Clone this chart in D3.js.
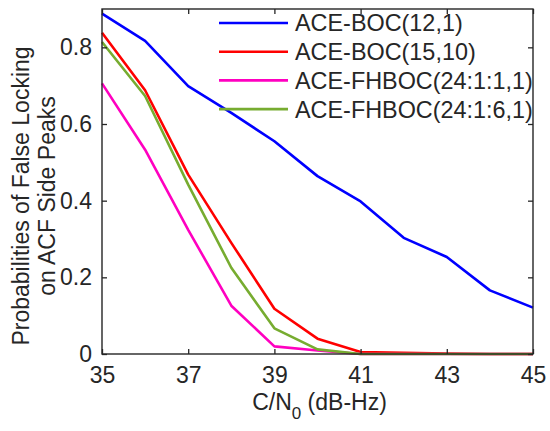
<!DOCTYPE html>
<html>
<head>
<meta charset="utf-8">
<script src="https://cdn.jsdelivr.net/npm/d3@7"></script>
<style>
  body { margin: 0; background: #fff; }
  svg text { font-family: "Liberation Sans", Arial, sans-serif; fill: #262626; }
</style>
</head>
<body>
<div id="chart"></div>
<script>
// C/N0 values (dB-Hz)
const cn0 = [35, 36, 37, 38, 39, 40, 41, 42, 43, 44, 45];

// Probabilities of false locking for each signal
const boc12_1 = [0.888, 0.817, 0.699, 0.629, 0.555, 0.464, 0.398, 0.303, 0.253, 0.166, 0.121];
const boc15_10 = [0.838, 0.688, 0.468, 0.290, 0.118, 0.040, 0.005, 0.003, 0.001, 0, 0];
const fhboc24_1_1 = [0.706, 0.533, 0.324, 0.126, 0.020, 0.009, 0, 0, 0, 0, 0];
const fhboc24_6_1 = [0.814, 0.673, 0.442, 0.225, 0.067, 0.012, 0, 0, 0, 0, 0];

const seriesNames = ["ACE-BOC(12,1)", "ACE-BOC(15,10)", "ACE-FHBOC(24:1:1,1)", "ACE-FHBOC(24:1:6,1)"];
const xTicks = [35, 37, 39, 41, 43, 45];
const yTicks = [0, 0.2, 0.4, 0.6, 0.8];

const series = [
  { name: seriesNames[0], values: boc12_1, color: "#0000ff" },
  { name: seriesNames[1], values: boc15_10, color: "#ff0000" },
  { name: seriesNames[2], values: fhboc24_1_1, color: "#ff00c0" },
  { name: seriesNames[3], values: fhboc24_6_1, color: "#77ac30" }
];

const width = 550;
const height = 431;
const margin = { top: 9, right: 17, bottom: 77, left: 102 };
const graphWidth = width - margin.left - margin.right;
const graphHeight = height - margin.top - margin.bottom;

const svg = d3.select("#chart").append("svg")
  .attr("width", width)
  .attr("height", height);

const graph = svg.append("g")
  .attr("transform", `translate(${margin.left}, ${margin.top})`);

const x = d3.scaleLinear().domain([35, 45]).range([0, graphWidth]);
const y = d3.scaleLinear().domain([0, 0.9]).range([graphHeight, 0]);

// lines first, axes box on top
const line = d3.line()
  .x((d, i) => x(cn0[i]))
  .y(d => y(d));

graph.selectAll("path.series")
  .data(series)
  .enter()
  .append("path")
  .attr("class", "series")
  .attr("fill", "none")
  .attr("stroke", d => d.color)
  .attr("stroke-width", 2.6)
  .attr("stroke-linejoin", "round")
  .attr("d", d => line(d.values));

// MATLAB-style box with inward ticks
const axisColor = "#262626";
const tickLen = 5;

const xAxis = d3.axisBottom(x).tickValues(xTicks).tickSizeInner(-tickLen).tickSizeOuter(0).tickPadding(12);
const yAxis = d3.axisLeft(y).tickValues(yTicks).tickSizeInner(-tickLen).tickSizeOuter(0).tickPadding(10)
  .tickFormat(d => d === 0 ? "0" : d3.format(".1f")(d));
const xTop = d3.axisTop(x).tickValues(xTicks).tickSizeInner(-tickLen).tickSizeOuter(0).tickFormat("");
const yRight = d3.axisRight(y).tickValues(yTicks).tickSizeInner(-tickLen).tickSizeOuter(0).tickFormat("");

const gX = graph.append("g").attr("transform", `translate(0, ${graphHeight})`).call(xAxis);
const gY = graph.append("g").call(yAxis);
const gXT = graph.append("g").call(xTop);
const gYR = graph.append("g").attr("transform", `translate(${graphWidth}, 0)`).call(yRight);

[gX, gY, gXT, gYR].forEach(g => {
  g.select(".domain").remove();
  g.selectAll("line").attr("stroke", axisColor).attr("stroke-width", 1.3);
  g.selectAll("text").style("font-size", "23px").attr("fill", axisColor);
});
gX.selectAll("text").attr("dy", "0.72em");

graph.append("rect")
  .attr("x", 0).attr("y", 0)
  .attr("width", graphWidth).attr("height", graphHeight)
  .attr("fill", "none")
  .attr("stroke", axisColor)
  .attr("stroke-width", 1.4);

// axis labels
const xLabel = svg.append("text")
  .attr("x", margin.left + graphWidth / 2 + 2)
  .attr("y", 410)
  .attr("text-anchor", "middle")
  .style("font-size", "23px");
xLabel.append("tspan").text("C/N");
xLabel.append("tspan").attr("dy", 9).style("font-size", "17px").text("0");
xLabel.append("tspan").attr("dy", -9).text(" (dB-Hz)");

const yLabel = svg.append("text")
  .attr("transform", "translate(29, 196) rotate(-90)")
  .attr("text-anchor", "middle")
  .style("font-size", "23px");
yLabel.append("tspan").attr("x", 0).attr("y", 0).text("Probabilities of False Locking");
yLabel.append("tspan").attr("x", 0).attr("y", 26).text("on ACF Side Peaks");

// legend
const legend = svg.append("g");
const legendRows = legend.selectAll("g")
  .data(series)
  .enter()
  .append("g")
  .attr("transform", (d, i) => `translate(219, ${23 + i * 28.7})`);

legendRows.append("line")
  .attr("x1", 0).attr("x2", 69)
  .attr("y1", 0).attr("y2", 0)
  .attr("stroke", d => d.color)
  .attr("stroke-width", 2.6);

legendRows.append("text")
  .attr("x", 76)
  .attr("dy", "0.36em")
  .style("font-size", "23.4px")
  .attr("fill", "#000")
  .text(d => d.name);
</script>
</body>
</html>
